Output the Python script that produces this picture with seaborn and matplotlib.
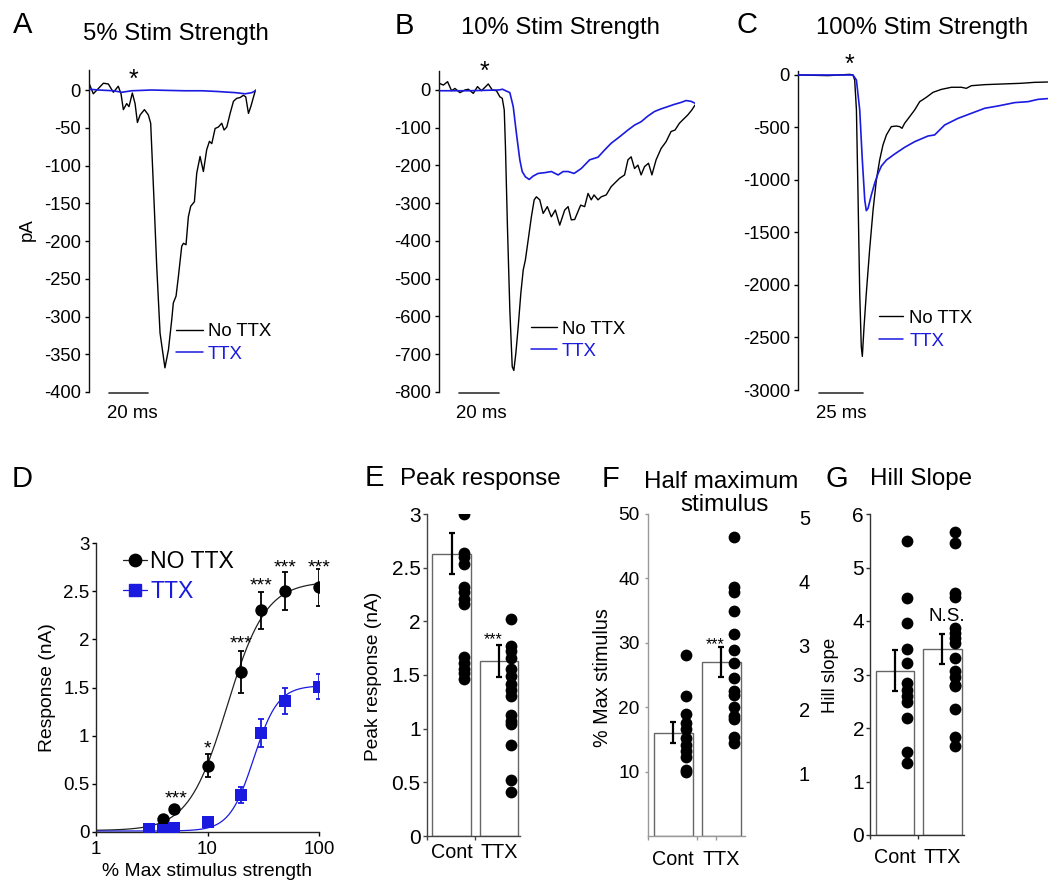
import numpy as np
import matplotlib
matplotlib.use("Agg")
import matplotlib.pyplot as plt
from matplotlib.lines import Line2D
from matplotlib.ticker import NullLocator
import seaborn as sns

# ---------------- data ----------------
# Panel A : 5% stimulus, time (ms) / current (pA)
a_notx_t = [0, 2.2, 4.8, 7.4, 9.9, 12.5, 15.0, 16.4, 17.6, 19.3, 20.5, 22.2, 23.6, 24.8, 26.2, 28.4, 30.4, 31.6,
            33.3, 34.7, 36.4, 38.9, 40.7, 42.4, 43.2, 44.6, 45.8, 47.5, 48.4, 49.7, 50.9, 52.1, 54.0, 55.2, 56.9,
            58.6, 60.3, 61.7, 62.9, 64.6, 66.3, 68.0, 69.2, 70.6, 72.3, 74.0, 75.7, 77.4, 79.1, 80.3, 81.7, 82.9,
            84.3, 85.3]
a_notx_v = [9, -5, 2, 9, 8, -3, 5, -5, -26, -18, -22, -4, -18, -43, -33, -26, -33, -44, -146, -234, -322, -368,
            -344, -304, -282, -273, -247, -207, -203, -205, -168, -154, -148, -110, -88, -108, -79, -68, -71, -51,
            -49, -44, -53, -49, -31, -15, -11, -10, -7, -9, -31, -22, -9, 0]
a_ttx_t = [0, 5, 12.5, 16.8, 21.9, 32, 40, 49, 58, 66, 75, 80, 83.4, 85.3]
a_ttx_v = [1, 0, -1, -3, -1, 0, -0.5, -1, -1, -2, -3.5, -5, -3.5, -1]

# Panel B : 10% stimulus
b_notx_t = [0, 2.2, 4.3, 6.3, 8.0, 10.5, 13.0, 14.7, 17.2, 19.3, 21.3, 23.0, 24.7, 26.7, 28.8, 30.5, 31.7, 32.7,
            33.3, 34.3, 35.5, 36.7, 37.5, 38.5, 39.7, 41.0, 42.2, 43.3, 44.7, 46.3, 47.7, 48.8, 50.5, 52.2, 54.3,
            56.3, 58.3, 60.5, 63.0, 64.7, 66.3, 68.0, 71.0, 73.0, 74.7, 76.3, 77.7, 79.7, 81.3, 83.8, 86.3, 88.0,
            90.5, 93.0, 94.7, 96.3, 98.0, 99.7, 101.3, 103.0, 105.0, 106.7, 108.8, 111.3, 113.8, 116.3, 118.3,
            120.5, 122.2, 124.7, 126.7, 128.3]
b_notx_v = [18, 13, 22, -2, 4, -7, 0, 2, -9, 9, -2, 7, 16, 0, -2, -18, -22, -53, -150, -362, -583, -733, -743,
            -698, -627, -539, -477, -450, -397, -336, -291, -283, -291, -327, -309, -336, -318, -358, -318, -309,
            -344, -343, -305, -309, -274, -291, -278, -291, -283, -278, -256, -247, -234, -225, -185, -177, -208,
            -199, -225, -203, -194, -225, -185, -155, -137, -110, -106, -88, -79, -66, -53, -40]
b_ttx_t = [0, 15, 30, 31.8, 35.5, 37.2, 38.8, 40.5, 41.7, 43.3, 45.2, 47.2, 49.7, 53.0, 56.3, 59.7, 62.2, 64.7,
           67.7, 71.3, 75.5, 79.7, 83.0, 86.3, 90.5, 94.7, 98.0, 101.3, 104.7, 108.0, 111.3, 114.7, 118.0, 121.3,
           123.8, 126.3, 128.3]
b_ttx_v = [-2, -2, 0, 2, -7, -44, -115, -185, -216, -230, -237, -228, -221, -219, -216, -225, -216, -216, -221,
           -208, -185, -178, -159, -141, -124, -106, -93, -84, -69, -57, -50, -44, -38, -33, -28, -30, -35]

# Panel C : 100% stimulus
c_notx_t = [0, 17.3, 29.8, 31.7, 32.7, 33.7, 34.6, 35.6, 36.5, 37.1, 38.1, 39.4, 41.3, 43.3, 45.2, 47.1, 49.0,
            51.0, 53.8, 56.7, 58.7, 60.0, 61.5, 64.4, 67.3, 70.2, 74.0, 77.9, 82.7, 88.5, 94.2, 97.1, 100.0, 107.7,
            117.3, 128.8, 136.5, 144.0]
c_notx_v = [0, -6, 6, 0, -48, -333, -1127, -2079, -2587, -2680, -2397, -2079, -1667, -1286, -1000, -810, -667,
            -571, -492, -486, -492, -508, -460, -397, -333, -254, -213, -165, -137, -117, -117, -127, -102, -92,
            -86, -79, -70, -67]
c_ttx_t = [0, 31.7, 33.7, 35.6, 37.1, 38.5, 39.4, 40.4, 42.3, 44.2, 46.2, 48.1, 51.0, 55.8, 61.5, 67.3, 75.0,
           78.8, 84.6, 92.3, 100.0, 107.7, 115.4, 125.0, 132.7, 138.5, 144.0]
c_ttx_v = [0, 0, -48, -333, -810, -1190, -1292, -1270, -1143, -1032, -937, -867, -810, -752, -689, -635, -581,
           -571, -476, -413, -365, -317, -295, -263, -254, -232, -225]

# Panel D : stimulus-response
d_notx_x = [4, 5, 10, 20, 30, 50, 100]
d_notx_y = [0.13, 0.235, 0.69, 1.66, 2.30, 2.50, 2.54]
d_notx_e = [0.02, 0.02, 0.115, 0.22, 0.19, 0.195, 0.19]
d_ttx_x = [3, 4, 5, 10, 20, 30, 50, 100]
d_ttx_y = [0.03, 0.02, 0.045, 0.10, 0.385, 1.025, 1.365, 1.51]
d_ttx_e = [0.01, 0.01, 0.01, 0.01, 0.08, 0.145, 0.135, 0.125]
fit_notx = [0.015, 2.6, 15.0, 2.5]   # bottom, top, EC50, Hill slope
fit_ttx = [0.01, 1.52, 26.0, 4.0]
d_star_x = [5.2, 10, 20, 30, 50, 100]
d_star_y = [0.415, 0.93, 2.02, 2.62, 2.81, 2.81]
d_star_s = ['***', '*', '***', '***', '***', '***']

groups = ['Cont', 'TTX']
# Panel E : peak response (nA)
e_mean = [2.63, 1.63]
e_sem = [0.19, 0.145]
e_cont = [3.00, 2.64, 2.60, 2.53, 2.32, 2.27, 2.21, 2.16, 1.67, 1.61, 1.56, 1.52, 1.46]
e_ttx = [2.02, 1.77, 1.72, 1.66, 1.56, 1.49, 1.42, 1.36, 1.30, 1.13, 1.07, 1.04, 0.85, 0.52, 0.41]
# Panel F : half maximum stimulus (%)
f_mean = [16.1, 27.0]
f_sem = [1.6, 2.3]
f_cont = [28.2, 21.8, 19.0, 17.6, 16.6, 15.3, 14.2, 13.2, 12.3, 10.3, 9.9]
f_ttx = [46.5, 38.7, 37.9, 34.9, 31.4, 28.9, 26.9, 24.5, 22.6, 21.9, 20.1, 18.6, 18.2, 15.4, 14.5]
# Panel G : Hill slope
g_mean = [3.07, 3.48]
g_sem = [0.38, 0.28]
g_cont = [5.50, 4.43, 3.96, 3.47, 3.21, 2.84, 2.71, 2.59, 2.49, 2.18, 1.56, 1.34]
g_ttx = [5.67, 5.46, 4.52, 4.45, 3.87, 3.77, 3.68, 3.59, 3.31, 3.06, 2.96, 2.81, 2.78, 2.35, 1.84, 1.67]

# ---------------- style ----------------
sns.set_theme(style='ticks')
plt.rcParams['font.family'] = ['Liberation Sans', 'DejaVu Sans']
plt.rcParams.update({'text.color': 'black', 'axes.labelcolor': 'black',
                     'xtick.color': 'black', 'ytick.color': 'black',
                     'axes.linewidth': 1.0, 'xtick.major.width': 1.0, 'ytick.major.width': 1.0,
                     'xtick.minor.width': 1.0})

BLACK = '#000000'
BLUE = '#1a1ae0'
W, H = 1048, 882
PT = 100 / 72.0
fig = plt.figure(figsize=(W / 100, H / 100), dpi=100)


def rect(l, t, r, b):
    return [l / W, 1 - b / H, (r - l) / W, (b - t) / H]


def ctext(x, yc, s, fs, **kw):
    fig.text(x / W, 1 - (yc + 0.358 * fs * PT) / H, s, fontsize=fs, va='baseline', **kw)


def vtext(xb, yc, s, fs, **kw):
    fig.text(xb / W, 1 - yc / H, s, fontsize=fs, rotation=90, rotation_mode='anchor',
             ha='center', va='baseline', **kw)


def star(x, yc, s, fs):
    fig.text(x / W, 1 - (yc + 0.57 * fs * PT) / H, s, fontsize=fs, va='baseline', ha='center')


def trace_legend(ax, xh, yc1, fs, hl_px, gap_px, step_px, labels=('No TTX', 'TTX'), handles=None):
    fpx = fs * PT
    if handles is None:
        handles = [Line2D([], [], color=BLACK, lw=1.0), Line2D([], [], color=BLUE, lw=1.1)]
    row_h = 0.94 * fpx
    ax.legend(handles, list(labels), loc='upper left',
              bbox_to_anchor=(xh / W, 1 - (yc1 - 0.371 * fpx) / H), bbox_transform=fig.transFigure,
              frameon=False, fontsize=fs, handlelength=hl_px / fpx, handletextpad=gap_px / fpx,
              borderpad=0, borderaxespad=0, labelspacing=(step_px - row_h) / fpx,
              labelcolor=[BLACK, BLUE], numpoints=1)


def trace_panel(box, tb, vb, tt, vt, xlim, ylim, yticks, bar_t, bar_y):
    ax = fig.add_axes(rect(*box))
    sns.lineplot(x=tb, y=vb, ax=ax, color=BLACK, lw=1.0, sort=False, estimator=None, zorder=2)
    sns.lineplot(x=tt, y=vt, ax=ax, color=BLUE, lw=1.2, sort=False, estimator=None, zorder=3)
    ax.set_xlim(xlim)
    ax.set_ylim(ylim)
    ax.set_yticks(yticks)
    ax.set_yticklabels([f'{v:g}' for v in yticks])
    ax.set_xticks([])
    for s in ['top', 'right', 'bottom']:
        ax.spines[s].set_visible(False)
    ax.spines['left'].set_color('#111111')
    ax.tick_params(axis='y', length=3, width=1.0, pad=2.8, labelsize=13.2, direction='out')
    ax.set_xlabel('')
    ax.set_ylabel('')
    ax.plot(bar_t, [bar_y, bar_y], color='#333333', lw=1.2, clip_on=False)
    return ax


# ---------------- A, B, C ----------------
axA = trace_panel((89, 70, 255.5, 392), a_notx_t, a_notx_v, a_ttx_t, a_ttx_v, (0, 85.3), (-400, 26.5),
                  list(range(0, -401, -50)), [10.3, 30.3], -401.3)
trace_legend(axA, 176, 330, 13.4, 26.5, 5, 23.3)
axB = trace_panel((439, 71, 695, 392), b_notx_t, b_notx_v, b_ttx_t, b_ttx_v, (0, 128.3), (-800, 50.3),
                  list(range(0, -801, -100)), [10, 30], -802.6)
trace_legend(axB, 531, 327.5, 13.4, 26, 5, 22.5)
axC = trace_panel((798, 71, 1048, 390), c_notx_t, c_notx_v, c_ttx_t, c_ttx_v, (0, 144.2), (-3000, 38),
                  list(range(0, -3001, -500)), [12, 37.4], -3028)
trace_legend(axC, 879, 316.7, 13.4, 24.3, 6, 23.3)

ctext(22.5, 23, 'A', 21, ha='center')
ctext(176, 31, '5% Stim Strength', 17.2, ha='center')
ctext(404, 24, 'B', 21, ha='center')
ctext(560, 25, '10% Stim Strength', 17.2, ha='center')
ctext(747.5, 22.5, 'C', 21, ha='center')
ctext(921.7, 25, '100% Stim Strength', 17.2, ha='center')
vtext(31.7, 230, 'pA', 13.4)
ctext(132, 411.5, '20 ms', 13.4, ha='center')
ctext(481.7, 411.5, '20 ms', 13.4, ha='center')
ctext(841.3, 411.5, '25 ms', 13.4, ha='center')
star(133, 73, '*', 18)
star(484, 65, '*', 18)
star(849, 58, '*', 18)

# ---------------- D ----------------
axD = fig.add_axes(rect(96, 543, 319, 832))
axD.set_xscale('log')
xfit = np.logspace(0, 2, 300)


def hill(x, p):
    b, t, ec, n = p
    return b + (t - b) * x ** n / (ec ** n + x ** n)


sns.lineplot(x=xfit, y=hill(xfit, fit_notx), ax=axD, color='#222222', lw=0.9, estimator=None, sort=False)
sns.lineplot(x=xfit, y=hill(xfit, fit_ttx), ax=axD, color=BLUE, lw=0.9, estimator=None, sort=False)
axD.errorbar(d_notx_x, d_notx_y, yerr=d_notx_e, fmt='none', ecolor=BLACK, elinewidth=1.3, capsize=2.4,
             capthick=1.3, zorder=4)
axD.errorbar(d_ttx_x, d_ttx_y, yerr=d_ttx_e, fmt='none', ecolor=BLUE, elinewidth=1.3, capsize=2.4,
             capthick=1.3, zorder=4)
sns.scatterplot(x=d_notx_x, y=d_notx_y, ax=axD, marker='o', s=80, color=BLACK, edgecolor=BLACK,
                linewidth=0, zorder=5)
sns.scatterplot(x=d_ttx_x, y=d_ttx_y, ax=axD, marker='s', s=70, color=BLUE, edgecolor=BLUE,
                linewidth=0, zorder=6)
axD.set_xlim(1, 100)
axD.set_ylim(0, 3)
axD.set_xticks([1, 10, 100])
axD.set_xticklabels(['1', '10', '100'])
axD.xaxis.set_minor_locator(NullLocator())
axD.set_yticks([0, 0.5, 1, 1.5, 2, 2.5, 3])
axD.set_yticklabels(['0', '0.5', '1', '1.5', '2', '2.5', '3'])
axD.tick_params(axis='y', length=3, pad=1.8, labelsize=13.5)
axD.tick_params(axis='x', length=3, pad=3.8, labelsize=13.5)
for s in ['top', 'right']:
    axD.spines[s].set_visible(False)
axD.set_xlabel('')
axD.set_ylabel('')
for xs, ys, ss in zip(d_star_x, d_star_y, d_star_s):
    axD.annotate(ss, (xs, ys), xytext=(0, -0.57 * 14), textcoords='offset points', ha='center',
                 va='baseline', fontsize=14)
legD = [Line2D([], [], color='#222222', lw=0.9, marker='o', markersize=8.9, markerfacecolor=BLACK,
               markeredgecolor=BLACK),
        Line2D([], [], color=BLUE, lw=0.9, marker='s', markersize=8.3, markerfacecolor=BLUE,
               markeredgecolor=BLUE)]
trace_legend(axD, 123, 559, 16.6, 23.5, 4, 28.5, labels=('NO TTX', 'TTX'), handles=legD)
ctext(22, 477, 'D', 21, ha='center')
vtext(51.7, 688, 'Response (nA)', 13.9)
ctext(206.7, 869, '% Max stimulus strength', 13.9, ha='center')


# ---------------- E, F, G ----------------
def bar_panel(box, means, sems, cont, ttx, xlim, ylim, yticks, ylabels, spine_col, ytick_fs, ypad, ytlen,
              xpad, minor_x):
    ax = fig.add_axes(rect(*box))
    sns.barplot(x=[0, 1], y=means, ax=ax, native_scale=True, width=0.82, color='white', saturation=1,
                edgecolor='#666666', linewidth=1.0, errorbar=None, zorder=1)
    ax.errorbar([0, 1], means, yerr=sems, fmt='none', ecolor=BLACK, elinewidth=1.6, capsize=2.1,
                capthick=1.6, zorder=4)
    sns.scatterplot(x=np.zeros(len(cont)) + 0.26, y=cont, ax=ax, s=72, color=BLACK, linewidth=0, zorder=5)
    sns.scatterplot(x=np.ones(len(ttx)) + 0.26, y=ttx, ax=ax, s=72, color=BLACK, linewidth=0, zorder=5)
    ax.set_xlim(xlim)
    ax.set_ylim(ylim)
    ax.set_yticks(yticks)
    ax.set_yticklabels(ylabels)
    ax.set_xticks([0, 1])
    ax.set_xticklabels(groups)
    ax.set_xticks(minor_x, minor=True)
    ax.tick_params(axis='x', which='major', length=0, pad=xpad, labelsize=14.2)
    ax.tick_params(axis='x', which='minor', length=3, width=1.0, color=spine_col)
    ax.tick_params(axis='y', length=ytlen, pad=ypad, labelsize=ytick_fs, color=spine_col)
    for s in ['top', 'right']:
        ax.spines[s].set_visible(False)
    for s in ['left', 'bottom']:
        ax.spines[s].set_color(spine_col)
    ax.set_xlabel('')
    ax.set_ylabel('')
    return ax


axE = bar_panel((427, 514, 520, 836), e_mean, e_sem, e_cont, e_ttx, (-0.516, 1.442), (0, 3),
                [0, 0.5, 1, 1.5, 2, 2.5, 3], ['0', '0.5', '1', '1.5', '2', '2.5', '3'], '#444444', 15, 1.5, 3,
                5.4, [-0.514, 0.495])
axE.annotate('***', (0.87, 1.875), xytext=(0, -0.57 * 11.5), textcoords='offset points', ha='center',
             va='baseline', fontsize=11.5)
ctext(374, 476, 'E', 21, ha='center')
ctext(480, 476, 'Peak response', 17.4, ha='center')
vtext(378.3, 676, 'Peak response (nA)', 13.8)

axF = bar_panel((648, 514, 745, 836.3), f_mean, f_sem, f_cont, f_ttx, (-0.53, 1.497), (0, 50),
                [10, 20, 30, 40, 50], ['10', '20', '30', '40', '50'], '#999999', 13.8, 4, 2,
                10, [-0.528, 0.5, 0.89])
axF.annotate('***', (0.87, 30.4), xytext=(0, -0.57 * 11.5), textcoords='offset points', ha='center',
             va='baseline', fontsize=11.5)
ctext(611, 476.7, 'F', 21, ha='center')
ctext(721.5, 479, 'Half maximum', 17.4, ha='center')
ctext(725, 502, 'stimulus', 17.4, ha='center')
vtext(608, 678, '% Max stimulus', 14.2)

# stray tick-label column next to F
axP = fig.add_axes(rect(812, 514, 813, 837))
axP.set_ylim(0, 5.06)
axP.set_yticks([1, 2, 3, 4, 5])
axP.set_yticklabels(['1', '2', '3', '4', '5'])
axP.set_xticks([])
axP.tick_params(axis='y', length=0, pad=1.5, labelsize=14.5)
for s in axP.spines.values():
    s.set_visible(False)
axP.patch.set_visible(False)

axG = bar_panel((870, 514, 964, 835), g_mean, g_sem, g_cont, g_ttx, (-0.526, 1.453), (0, 6),
                [0, 1, 2, 3, 4, 5, 6], ['0', '1', '2', '3', '4', '5', '6'], '#333333', 15, 1.3, 3,
                9.7, [-0.524, 0.484])
axG.annotate('N.S.', (1.09, 4.12), xytext=(0, -0.358 * 13.6), textcoords='offset points', ha='center',
             va='baseline', fontsize=13.6)
ctext(836.7, 476.7, 'G', 21, ha='center')
ctext(920.8, 476.5, 'Hill Slope', 17.4, ha='center')
vtext(835, 675, 'Hill slope', 13.4)

fig.savefig('out.png', dpi=100)
